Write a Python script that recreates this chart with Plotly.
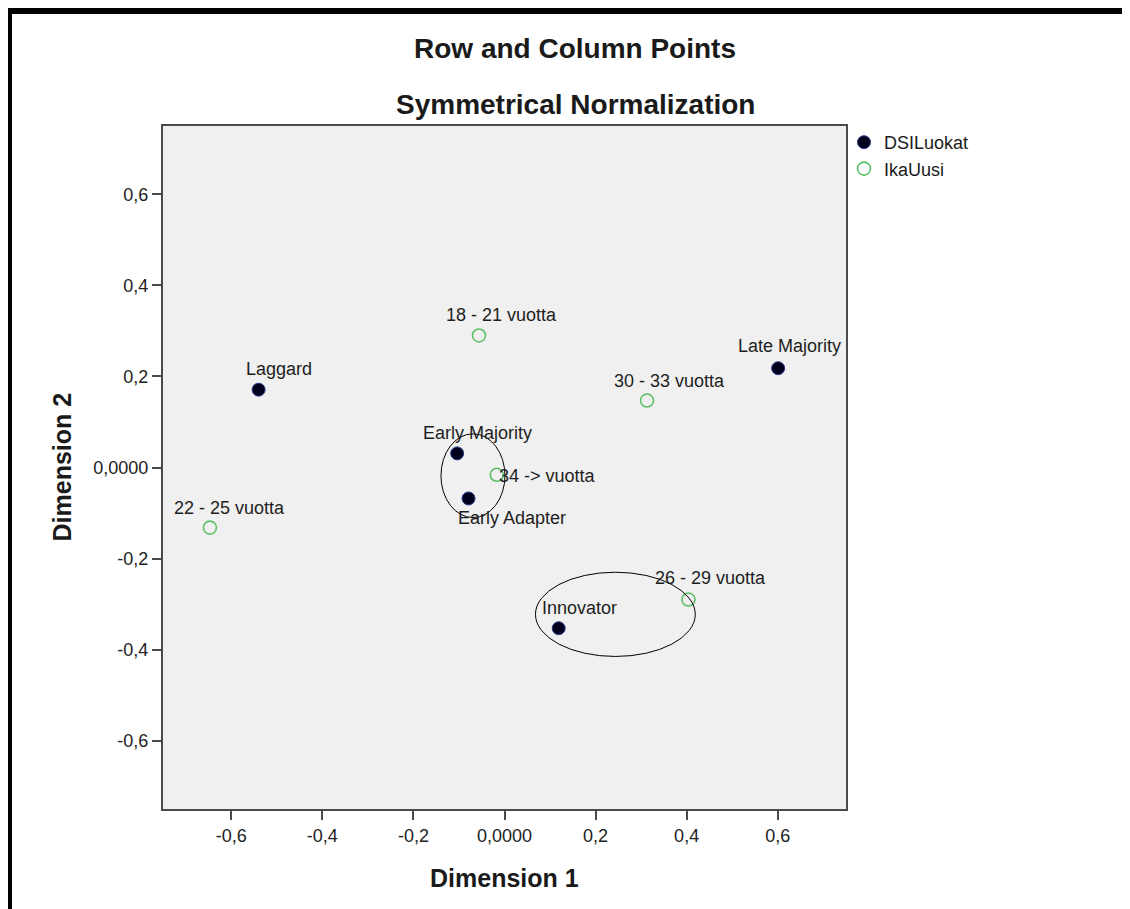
import plotly.graph_objects as go

# ---- data ----
row_labels = ["Laggard", "Late Majority", "Early Majority", "Early Adapter", "Innovator"]
row_dim1 = [-0.540, 0.601, -0.104, -0.079, 0.119]
row_dim2 = [0.171, 0.218, 0.031, -0.068, -0.353]

col_labels = ["18 - 21 vuotta", "22 - 25 vuotta", "26 - 29 vuotta", "30 - 33 vuotta", "34 -> vuotta"]
col_dim1 = [-0.056, -0.647, 0.404, 0.313, -0.017]
col_dim2 = [0.290, -0.132, -0.290, 0.147, -0.016]

tick_vals = [-0.6, -0.4, -0.2, 0.0, 0.2, 0.4, 0.6]
tick_text = ["-0,6", "-0,4", "-0,2", "0,0000", "0,2", "0,4", "0,6"]

# label offsets in px (styling)
row_shift = [(20, 21), (11, 22), (20, 20), (43, -20), (21, 20)]
col_shift = [(22, 20), (20, 20), (22, 22), (22, 20), (51, -1)]

# ---- layout geometry ----
OFFX, OFFY = 7, 7          # page offset of the figure (body margin)
W, H = 1123, 902
ML, MT = 155, 118
PW = PH = 683
MR = W - ML - PW
MB = H - MT - PH


def px_x(px):
    return (px - OFFX - ML) / PW


def px_y(py):
    return (H - MB - (py - OFFY)) / PH


FONT = "Liberation Sans, Arial, sans-serif"

fig = go.Figure()
fig.add_trace(go.Scatter(
    x=row_dim1, y=row_dim2, mode="markers", name="DSILuokat",
    marker=dict(symbol="circle", size=13, color="#00001c",
                line=dict(color="#2a3a8a", width=1)),
))
fig.add_trace(go.Scatter(
    x=col_dim1, y=col_dim2, mode="markers", name="IkaUusi",
    marker=dict(symbol="circle-open", size=13, color="#5cbf66",
                line=dict(width=1.6)),
))

annotations = []
for lbl, xv, yv, (dx, dy) in zip(row_labels, row_dim1, row_dim2, row_shift):
    annotations.append(dict(x=xv, y=yv, xref="x", yref="y", text=lbl, showarrow=False,
                            xanchor="center", yanchor="middle",
                            xshift=dx, yshift=dy, font=dict(size=18, color="#1e1e1e", family=FONT)))
for lbl, xv, yv, (dx, dy) in zip(col_labels, col_dim1, col_dim2, col_shift):
    annotations.append(dict(x=xv, y=yv, xref="x", yref="y", text=lbl, showarrow=False,
                            xanchor="center", yanchor="middle",
                            xshift=dx, yshift=dy, font=dict(size=18, color="#1e1e1e", family=FONT)))

# titles
annotations.append(dict(x=px_x(574), y=px_y(48), xref="paper", yref="paper",
                        xanchor="center", yanchor="middle",
                        text="<b>Row and Column Points</b>", showarrow=False,
                        font=dict(size=28, color="#1a1a1a", family=FONT)))
annotations.append(dict(x=px_x(574), y=px_y(103), xref="paper", yref="paper",
                        xanchor="center", yanchor="middle",
                        text="<b>Symmetrical Normalization</b>", showarrow=False,
                        font=dict(size=28, color="#1a1a1a", family=FONT)))
annotations.append(dict(x=0.5, y=px_y(877), xref="paper", yref="paper",
                        xanchor="center", yanchor="middle",
                        text="<b>Dimension 1</b>", showarrow=False,
                        font=dict(size=25, color="#1a1a1a", family=FONT)))
annotations.append(dict(x=px_x(60), y=0.5, xref="paper", yref="paper", textangle=-90,
                        xanchor="center", yanchor="middle",
                        text="<b>Dimension 2</b>", showarrow=False,
                        font=dict(size=25, color="#1a1a1a", family=FONT)))

shapes = [
    # ellipses
    dict(type="circle", xref="x", yref="y", x0=-0.1396, x1=0.001, y0=-0.110, y1=0.074,
         line=dict(color="black", width=1)),
    dict(type="circle", xref="x", yref="y", x0=0.068, x1=0.419, y0=-0.415, y1=-0.230,
         line=dict(color="black", width=1)),
    # outer frame (top and left)
    dict(type="line", xref="paper", yref="paper", x0=px_x(6), x1=px_x(1140), y0=px_y(10), y1=px_y(10),
         line=dict(color="black", width=6)),
    dict(type="line", xref="paper", yref="paper", x0=px_x(8.5), x1=px_x(8.5), y0=px_y(7), y1=px_y(915),
         line=dict(color="black", width=5)),
]

axis_common = dict(
    tickmode="array", tickvals=tick_vals, ticktext=tick_text,
    range=[-0.75, 0.75], showgrid=False, zeroline=False,
    showline=True, linecolor="#4a4a4a", linewidth=2, mirror=True,
    ticks="outside", ticklen=9, tickwidth=2, tickcolor="#4a4a4a",
    tickfont=dict(size=18, color="#222222", family=FONT),
)

fig.update_layout(
    width=W, height=H,
    margin=dict(l=ML, r=MR, t=MT, b=MB),
    paper_bgcolor="white", plot_bgcolor="#f0f0f0",
    xaxis=dict(**axis_common),
    yaxis=dict(**axis_common),
    showlegend=True,
    legend=dict(x=px_x(843), y=px_y(123), xanchor="left", yanchor="top",
                font=dict(size=18, color="#1a1a1a", family=FONT),
                bgcolor="rgba(0,0,0,0)", tracegroupgap=0, itemwidth=30),
    annotations=annotations,
    shapes=shapes,
)

fig.write_html("out.html")
